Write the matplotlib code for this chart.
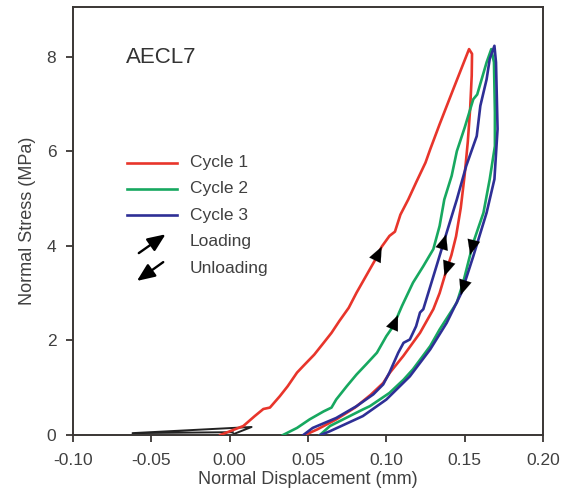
"""
Normal stress vs normal displacement for sample AECL7, three load cycles.
"""

import matplotlib
matplotlib.use("Agg")
import matplotlib.pyplot as plt
from matplotlib.lines import Line2D
import numpy as np


# cycle 1 (red)
c1_load_x = [-0.006, 0.0087, 0.016, 0.0215, 0.0257, 0.032, 0.037, 0.043, 0.047,
             0.054, 0.060, 0.065, 0.070, 0.076, 0.081, 0.087, 0.093, 0.097,
             0.102, 0.1055, 0.109, 0.114, 0.119, 0.125, 0.128, 0.134, 0.1427,
             0.1528]
c1_load_y = [0.0, 0.19, 0.40, 0.55, 0.58, 0.82, 1.03, 1.32, 1.46,
             1.70, 1.95, 2.16, 2.41, 2.69, 3.01, 3.36, 3.71, 3.98,
             4.21, 4.30, 4.66, 4.98, 5.34, 5.76, 6.04, 6.57, 7.31,
             8.16]
c1_unload_x = [0.1547, 0.1545, 0.1535, 0.152, 0.150, 0.1475, 0.1445, 0.1415,
               0.1385, 0.134, 0.130, 0.1215, 0.1108, 0.1023, 0.098, 0.090,
               0.080, 0.068, 0.056, 0.048]
c1_unload_y = [8.06, 7.6, 6.9, 6.2, 5.5, 4.8, 4.2, 3.8,
               3.5, 3.0, 2.66, 2.16, 1.67, 1.32, 1.10, 0.85,
               0.58, 0.33, 0.12, 0.0]

# cycle 2 (green)
c2_load_x = [0.034, 0.043, 0.051, 0.060, 0.065, 0.068, 0.0747, 0.081, 0.087,
             0.094, 0.100, 0.1044, 0.110, 0.117, 0.1236, 0.130, 0.134, 0.137,
             0.1417, 0.145, 0.150, 0.1555, 0.158, 0.164, 0.167]
c2_load_y = [0.0, 0.15, 0.33, 0.50, 0.58, 0.75, 1.03, 1.28, 1.49,
             1.74, 2.09, 2.30, 2.73, 3.22, 3.57, 3.93, 4.42, 4.98,
             5.48, 6.0, 6.5, 7.10, 7.2, 7.88, 8.16]
c2_unload_x = [0.1687, 0.1693, 0.1693, 0.166, 0.162, 0.1555, 0.149, 0.145,
               0.134, 0.128, 0.117, 0.111, 0.102, 0.0895, 0.085, 0.064, 0.0576]
c2_unload_y = [7.88, 6.82, 6.11, 5.41, 4.70, 4.07, 3.22, 2.80,
               2.23, 1.88, 1.39, 1.17, 0.89, 0.61, 0.54, 0.19, 0.0]

# cycle 3 (blue)
c3_load_x = [0.047, 0.053, 0.068, 0.081, 0.0917, 0.098, 0.102, 0.1076, 0.111,
             0.115, 0.119, 0.1215, 0.1236, 0.132, 0.1385, 0.145, 0.151,
             0.1577, 0.160, 0.164, 0.166, 0.169]
c3_load_y = [0.0, 0.15, 0.36, 0.61, 0.86, 1.07, 1.32, 1.74, 1.95,
             2.02, 2.30, 2.59, 2.66, 3.57, 4.28, 4.98, 5.69,
             6.32, 6.96, 7.52, 7.95, 8.23]
c3_unload_x = [0.170, 0.171, 0.169, 0.164, 0.1555, 0.148, 0.1385, 0.128,
               0.115, 0.100, 0.085, 0.064, 0.058]
c3_unload_y = [7.88, 6.47, 5.41, 4.70, 3.78, 3.01, 2.37, 1.81,
               1.24, 0.75, 0.40, 0.08, 0.0]

# seating line before cycle 1 (black)
seat_x = [0.002, -0.062, 0.014, 0.001]
seat_y = [0.06, 0.04, 0.17, 0.0]

cycle_names = ["Cycle 1", "Cycle 2", "Cycle 3"]
cycle_colors = ["#e8352b", "#17a860", "#2e2f96"]

# stress levels where the direction arrows sit on each branch
load_arrow_y = [3.85, 2.4, 4.1]
unload_arrow_y = [3.5, 3.95, 3.1]

x_ticks = [-0.10, -0.05, 0.00, 0.05, 0.10, 0.15, 0.20]
y_ticks = [0, 2, 4, 6, 8]

TEXT = "#404040"
SPINE = "#3a3634"


def arrow_on_curve(ax, xs, ys, y_at, going_up):
    """put a small black arrow head on a branch at stress level y_at"""

    xs = np.asarray(xs)
    ys = np.asarray(ys)
    for i in range(len(ys) - 1):
        lo, hi = sorted((ys[i], ys[i+1]))
        if lo <= y_at <= hi and hi > lo:
            t = (y_at - ys[i]) / (ys[i+1] - ys[i])
            x0 = xs[i] + t * (xs[i+1] - xs[i])
            dx = xs[i+1] - xs[i]
            dy = ys[i+1] - ys[i]
            break
    # direction in display space so the head follows the line
    p0 = ax.transData.transform((x0, y_at))
    p1 = ax.transData.transform((x0 + dx, y_at + dy))
    d = (p1 - p0) / np.hypot(*(p1 - p0))
    if (d[1] > 0) != going_up:
        d = -d
    tip = p0 + d * 7
    tail = p0 - d * 7
    inv = ax.transData.inverted()
    ax.annotate("", xy=inv.transform(tip), xytext=inv.transform(tail),
                arrowprops=dict(arrowstyle="-|>,head_length=0.9,head_width=0.38",
                                color="black", lw=0.1, mutation_scale=12,
                                shrinkA=0, shrinkB=0), zorder=5)


def main():
    """Runs the program"""

    plt.rcParams["font.family"] = ["Liberation Sans", "DejaVu Sans"]

    fig = plt.figure(figsize=(5.72, 4.94), dpi=100)
    ax = fig.add_axes([0.1276, 0.1194, 0.8217, 0.8664])

    ax.set_xlim(-0.10, 0.20)
    ax.set_ylim(0, 9.05)

    ax.plot(seat_x, seat_y, color="#222222", lw=1.4, zorder=2)

    loads = [(c1_load_x, c1_load_y), (c2_load_x, c2_load_y), (c3_load_x, c3_load_y)]
    unloads = [(c1_unload_x, c1_unload_y), (c2_unload_x, c2_unload_y),
               (c3_unload_x, c3_unload_y)]

    for k in range(3):
        x = list(loads[k][0]) + list(unloads[k][0])
        y = list(loads[k][1]) + list(unloads[k][1])
        ax.plot(x, y, color=cycle_colors[k], lw=1.9, zorder=3, solid_joinstyle="round")

    for k in range(3):
        arrow_on_curve(ax, loads[k][0], loads[k][1], load_arrow_y[k], True)
        arrow_on_curve(ax, unloads[k][0], unloads[k][1], unload_arrow_y[k], False)

    # hand made legend
    rows = [0.636, 0.575, 0.514, 0.451, 0.390]
    for k in range(3):
        ax.add_line(Line2D([0.115, 0.221], [rows[k], rows[k]], transform=ax.transAxes,
                           color=cycle_colors[k], lw=1.9))
    ax.annotate("", xy=(0.197, rows[3] + 0.018), xytext=(0.140, rows[3] - 0.026),
                xycoords="axes fraction", textcoords="axes fraction",
                arrowprops=dict(arrowstyle="-|>,head_length=0.9,head_width=0.38",
                                color="black", lw=1.7, mutation_scale=12,
                                shrinkA=0, shrinkB=0))
    ax.annotate("", xy=(0.136, rows[4] - 0.030), xytext=(0.192, rows[4] + 0.014),
                xycoords="axes fraction", textcoords="axes fraction",
                arrowprops=dict(arrowstyle="-|>,head_length=0.9,head_width=0.38",
                                color="black", lw=1.7, mutation_scale=12,
                                shrinkA=0, shrinkB=0))
    labels = cycle_names + ["Loading", "Unloading"]
    for r, lab in zip(rows, labels):
        ax.text(0.249, r, lab, transform=ax.transAxes, fontsize=12.5,
                color=TEXT, va="center", ha="left")

    ax.text(0.113, 0.882, "AECL7", transform=ax.transAxes, fontsize=16,
            color="#333333", va="center", ha="left")

    ax.set_xticks(x_ticks)
    ax.set_xticklabels(["%.2f" % v for v in x_ticks])
    ax.set_yticks(y_ticks)
    ax.tick_params(direction="out", length=5, width=1.3, colors=SPINE,
                   labelcolor=TEXT, labelsize=12.5)
    ax.tick_params(axis="x", pad=8)
    ax.tick_params(axis="y", pad=7)
    for s in ax.spines.values():
        s.set_color(SPINE)
        s.set_linewidth(1.4)

    ax.set_xlabel("Normal Displacement (mm)", fontsize=13, color=TEXT, labelpad=2)
    ax.set_ylabel("Normal Stress (MPa)", fontsize=13, color=TEXT, labelpad=8)

    fig.savefig("out.png", dpi=100)


if __name__ == "__main__":
    main()
